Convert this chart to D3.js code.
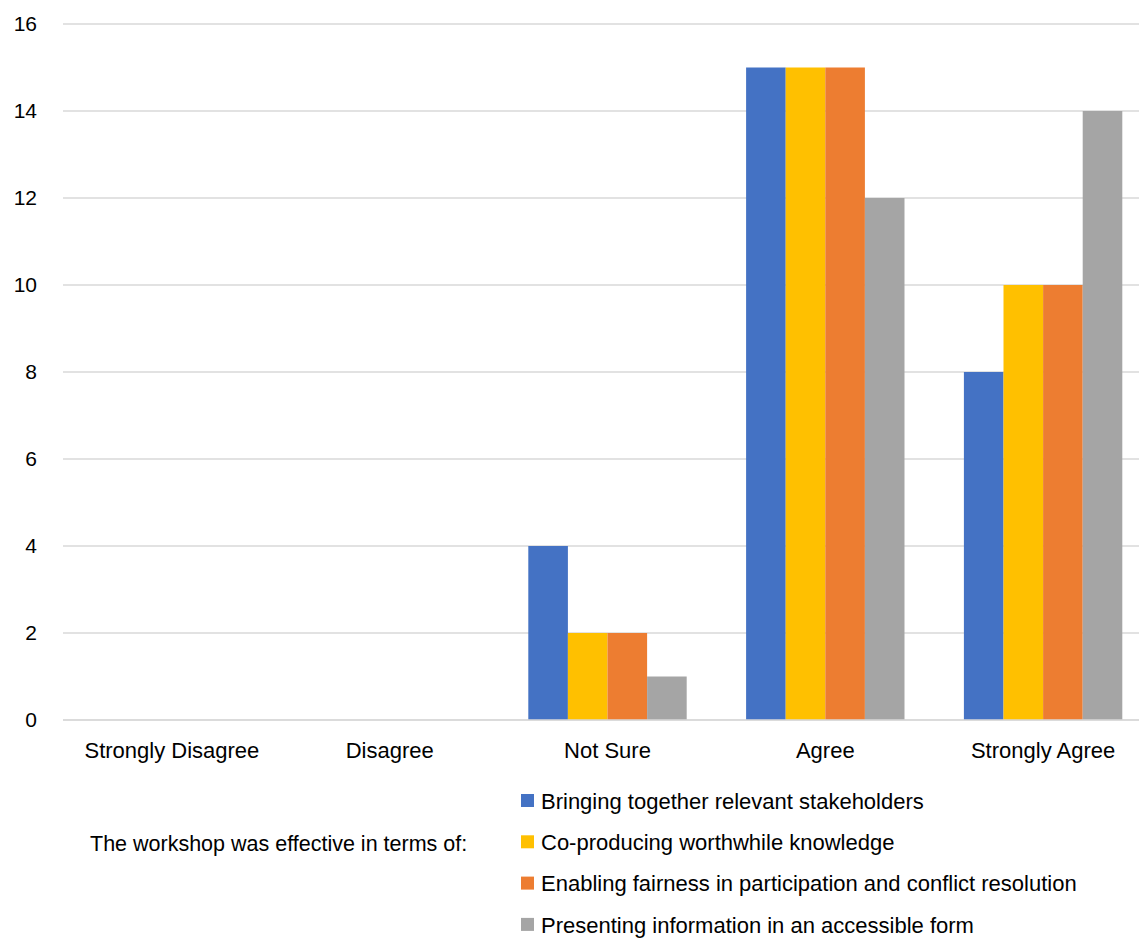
<!DOCTYPE html>
<html>
<head>
<meta charset="utf-8">
<script src="https://cdn.jsdelivr.net/npm/d3@7"></script>
<style>
  body { margin: 0; background: #fff; }
  svg text { font-family: "Liberation Sans", Arial, sans-serif; fill: #000; }
</style>
</head>
<body>
<div id="vis"></div>
<script>
var width = 1139,
	height = 938;

// data
var categories = ["Strongly Disagree", "Disagree", "Not Sure", "Agree", "Strongly Agree"];
var seriesNames = ["Bringing together relevant stakeholders", "Co-producing worthwhile knowledge", "Enabling fairness in participation and conflict resolution", "Presenting information in an accessible form"];
var seriesColors = ["#4472c4", "#ffc000", "#ed7d31", "#a5a5a5"];
var stakeholders = [0, 0, 4, 15, 8];
var knowledge = [0, 0, 2, 15, 10];
var fairness = [0, 0, 2, 15, 10];
var accessible = [0, 0, 1, 12, 14];
var yTicks = [0, 2, 4, 6, 8, 10, 12, 14, 16];
var legendTitle = "The workshop was effective in terms of:";

var seriesValues = [stakeholders, knowledge, fairness, accessible];

var svg = d3.select('#vis')
	.append('svg')
	.attr('width', width)
	.attr('height', height);

// plot area runs past the right edge, like the original export
var x0 = d3.scaleBand()
	.domain(categories)
	.range([63, 1152])
	.paddingInner(0)
	.paddingOuter(0);

var x1 = d3.scaleBand()
	.domain(d3.range(seriesNames.length))
	.range([0, x0.bandwidth()])
	.paddingInner(0)
	.paddingOuter(0.75);

var y = d3.scaleLinear()
	.domain([0, 16])
	.range([720, 24]);

// gridlines
svg.append('g')
	.selectAll('line')
	.data(yTicks)
	.enter()
	.append('line')
	.attr('x1', 63)
	.attr('x2', width)
	.attr('y1', function(d) { return y(d); })
	.attr('y2', function(d) { return y(d); })
	.style('stroke', '#d9d9d9')
	.style('stroke-width', 1.5);

// y axis labels
var yAxis = d3.axisLeft(y)
	.tickValues(yTicks)
	.tickSize(0)
	.tickPadding(0);

svg.append('g')
	.attr('transform', 'translate(37,0)')
	.call(yAxis)
	.call(function(g) { g.select('.domain').remove(); })
	.selectAll('text')
	.style('font-family', '"Liberation Sans", Arial, sans-serif')
	.style('font-size', '21px')
	.attr('fill', '#000');

// bars
var groups = svg.append('g')
	.selectAll('g')
	.data(categories)
	.enter()
	.append('g')
	.attr('transform', function(d) { return 'translate(' + x0(d) + ',0)'; });

groups.selectAll('rect')
	.data(function(d, i) {
		return seriesValues.map(function(s, k) { return {k: k, value: s[i]}; });
	})
	.enter()
	.filter(function(d) { return d.value > 0; })
	.append('rect')
	.attr('x', function(d) { return x1(d.k); })
	.attr('width', x1.bandwidth())
	.attr('y', function(d) { return y(d.value); })
	.attr('height', function(d) { return y(0) - y(d.value); })
	.style('fill', function(d) { return seriesColors[d.k]; });

// redraw baseline over bars
svg.append('line')
	.attr('x1', 63)
	.attr('x2', width)
	.attr('y1', y(0))
	.attr('y2', y(0))
	.style('stroke', '#d9d9d9')
	.style('stroke-width', 1.5);

// category labels
var xAxis = d3.axisBottom(x0)
	.tickSize(0)
	.tickPadding(0);

svg.append('g')
	.attr('transform', 'translate(0,' + 742 + ')')
	.call(xAxis)
	.call(function(g) { g.select('.domain').remove(); })
	.selectAll('text')
	.style('font-family', '"Liberation Sans", Arial, sans-serif')
	.style('font-size', '22px')
	.attr('fill', '#000');

// legend
svg.append('text')
	.attr('x', 90)
	.attr('y', 843)
	.attr('dy', '0.35em')
	.style('font-size', '21.5px')
	.text(legendTitle);

var legend = svg.append('g')
	.selectAll('g')
	.data(seriesNames)
	.enter()
	.append('g')
	.attr('transform', function(d, i) { return 'translate(521,' + (801 + i * 41.3) + ')'; });

legend.append('rect')
	.attr('x', 0)
	.attr('y', -7)
	.attr('width', 13)
	.attr('height', 13)
	.style('fill', function(d, i) { return seriesColors[i]; });

legend.append('text')
	.attr('x', 20)
	.attr('y', 0)
	.attr('dy', '0.35em')
	.style('font-size', '22px')
	.text(function(d) { return d; });
</script>
</body>
</html>
